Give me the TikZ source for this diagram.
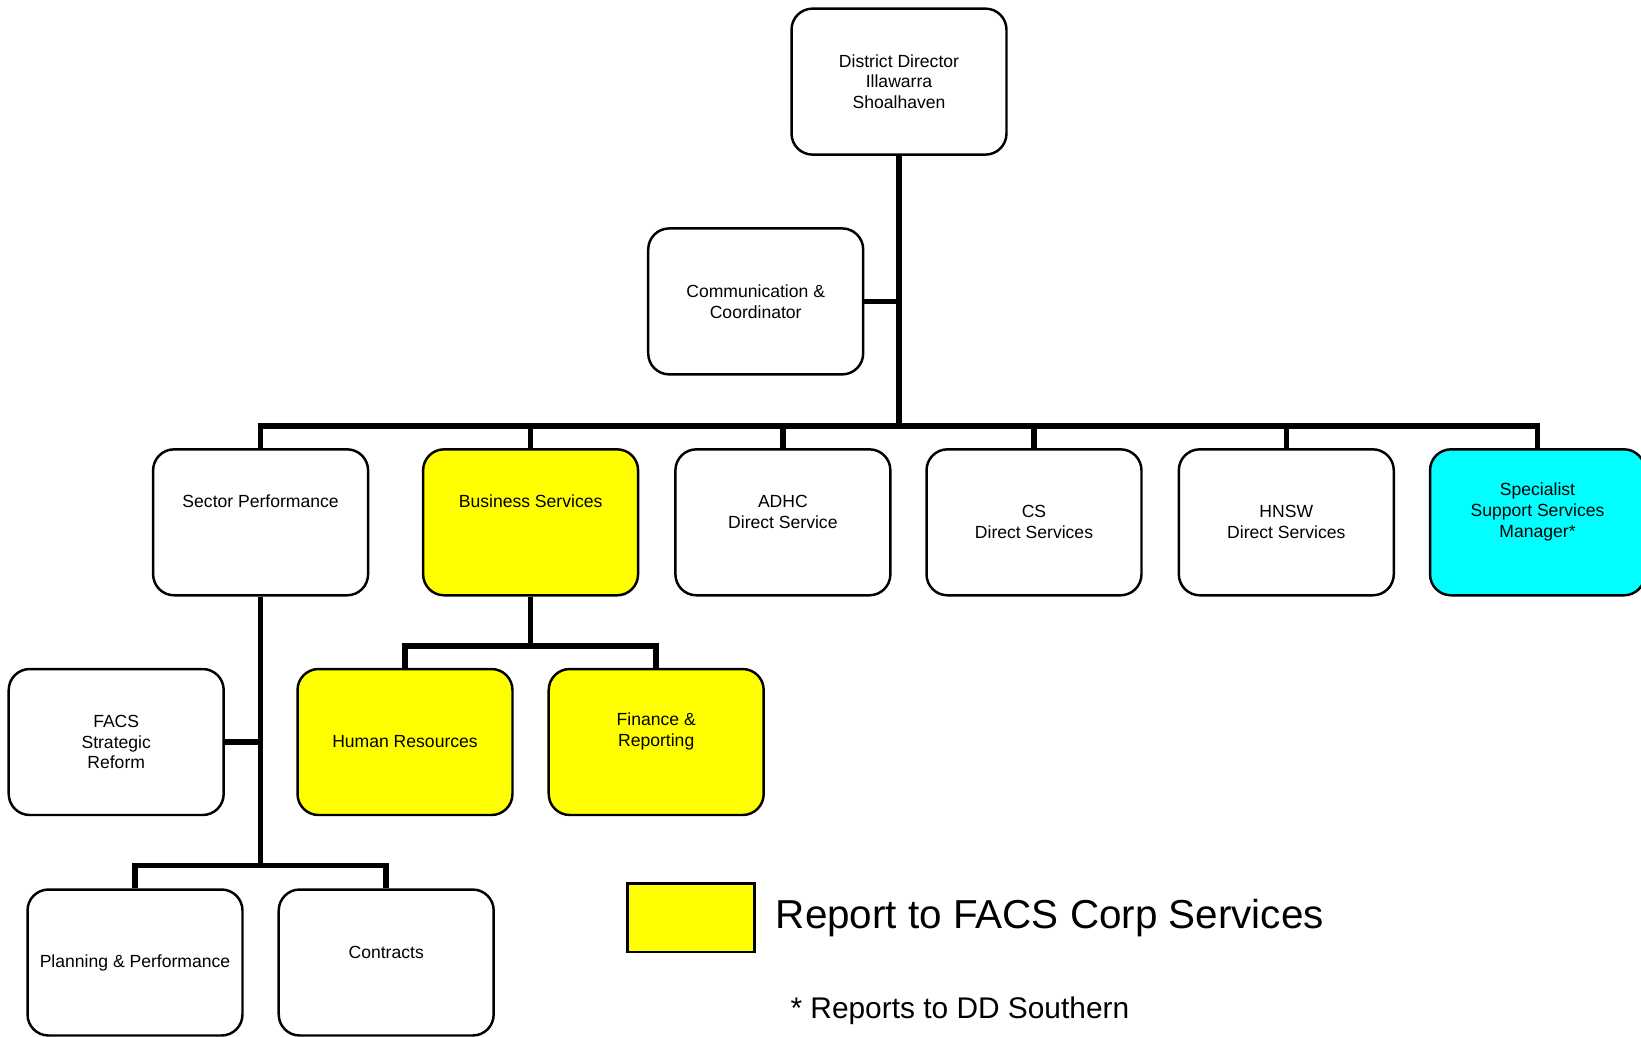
\documentclass[tikz,border=0pt]{standalone}
\usepackage{fontspec}
\setmainfont{Liberation Sans}
\usepackage{tikz}
\usetikzlibrary{positioning}
\definecolor{corp}{RGB}{255,255,0}
\definecolor{southern}{RGB}{0,255,255}

\begin{document}
\begin{tikzpicture}[x=0.02cm, y=-0.02cm,
    unit/.style={draw, rounded corners=0.42cm, line width=1.4pt, fill=white,
                 minimum width=4.30cm, minimum height=2.92cm},
    lbl/.style={align=center, inner sep=0pt, font=\fontsize{10}{11.8}\selectfont},
    link/.style={line width=3.1pt}]
    \useasboundingbox (0,0) rectangle (1641,1036);

    % Director and office
    \node[unit] (dd) at (899,81.6) {};
    \node[lbl] (dd-t) at (dd.center) {District Director\\Illawarra\\Shoalhaven};
    \node[unit] (comm) at (755.7,301.4) {};
    \node[lbl] (comm-t) at (comm.center) {Communication \&\\Coordinator};

    % Second level
    \node[unit] (sector) at (260.6,522.3) {};
    \node[lbl] (sector-t) at ([yshift=0.42cm]sector.center) {Sector Performance};
    \node[unit, fill=corp] (business) at (530.6,522.3) {};
    \node[lbl] (business-t) at ([yshift=0.42cm]business.center) {Business Services};
    \node[unit] (adhc) at (782.9,522.3) {};
    \node[lbl] (adhc-t) at ([yshift=0.21cm]adhc.center) {ADHC\\Direct Service};
    \node[unit] (cs) at (1034,522.3) {};
    \node[lbl] (cs-t) at (cs.center) {CS\\Direct Services};
    \node[unit] (hnsw) at (1286.3,522.3) {};
    \node[lbl] (hnsw-t) at (hnsw.center) {HNSW\\Direct Services};
    \node[unit, fill=southern] (special) at (1537.5,522.3) {};
    \node[lbl] (special-t) at ([yshift=0.21cm]special.center) {Specialist\\Support Services\\Manager*};

    % Third level
    \node[unit] (facs) at (116.2,742) {};
    \node[lbl] (facs-t) at (facs.center) {FACS\\Strategic\\Reform};
    \node[unit, fill=corp] (hr) at (405,742) {};
    \node[lbl] (hr-t) at (hr.center) {Human Resources};
    \node[unit, fill=corp] (finance) at (656.2,742) {};
    \node[lbl] (finance-t) at ([yshift=0.21cm]finance.center) {Finance \&\\Reporting};

    % Fourth level
    \node[unit] (planning) at (135,962.5) {};
    \node[lbl] (planning-t) at (planning.center) {Planning \& Performance};
    \node[unit] (contracts) at (386.2,962.5) {};
    \node[lbl] (contracts-t) at ([yshift=0.21cm]contracts.center) {Contracts};

    % Branch points
    \coordinate (bus) at (899,426);
    \coordinate (bizfork) at (530.6,645.8);
    \coordinate (secfork) at (260.6,865.5);

    % Connectors
    \draw[link] (dd.south) -- (bus);
    \draw[link] (comm.east) -- (comm.east -| dd.south);
    \draw[link] (sector.north) |- (bus) -| (special.north);
    \draw[link] (business.north) -- (business.north |- bus);
    \draw[link] (adhc.north) -- (adhc.north |- bus);
    \draw[link] (cs.north) -- (cs.north |- bus);
    \draw[link] (hnsw.north) -- (hnsw.north |- bus);
    \draw[link] (business.south) -- (bizfork);
    \draw[link] (hr.north) |- (bizfork) -| (finance.north);
    \draw[link] (sector.south) -- (secfork);
    \draw[link] (facs.east) -- (facs.east -| sector.south);
    \draw[link] (planning.north) |- (secfork) -| (contracts.north);

    % Legend
    \node[draw, line width=1.4pt, fill=corp, minimum width=2.54cm, minimum height=1.37cm] (key) at (690.8,917.9) {};
    \node[right=0.4cm of key, inner sep=0pt, font=\fontsize{23}{27}\selectfont] (key-t) {Report to FACS Corp Services};
    \node[anchor=west, inner sep=0pt, font=\fontsize{17}{20}\selectfont] (note) at (790.2,1011) {* Reports to DD Southern};
\end{tikzpicture}
\end{document}
